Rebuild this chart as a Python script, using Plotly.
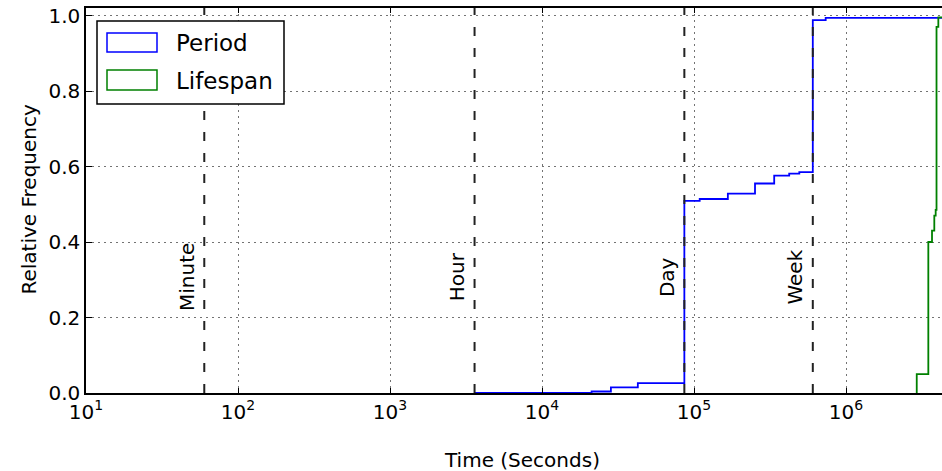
import numpy as np
import plotly.graph_objects as go

# Cumulative distributions (time in seconds, relative frequency)
period_t = [3600, 21200, 28400, 42700, 86400, 109000, 167000, 252000,
            337000, 423000, 493000, 604800, 735000, 4.6e6]
period_f = [0.0, 0.004, 0.015, 0.026, 0.509, 0.514, 0.528, 0.555,
            0.576, 0.581, 0.585, 0.988, 0.994, 0.995]

lifespan_t = [2.92e6, 2.92e6, 3.48e6, 3.68e6, 3.81e6, 3.89e6, 3.94e6, 4.05e6, 4.6e6]
lifespan_f = [0.0, 0.05, 0.40, 0.43, 0.47, 0.485, 0.97, 0.995, 0.995]

# Reference durations
marker_names = ["Minute", "Hour", "Day", "Week"]
marker_secs = [60, 3600, 86400, 604800]

x_tick_exp = [1, 2, 3, 4, 5, 6]
y_ticks = [0.0, 0.2, 0.4, 0.6, 0.8, 1.0]

FONT = "DejaVu Sans"
W, H = 942, 471
ML, MR, MT, MB = 86, 0, 8, 78
PW, PH = W - ML - MR, H - MT - MB

def px_x(p):
    return (p - ML) / PW

def px_y(p):
    return (H - MB - p) / PH

fig = go.Figure()

fig.add_trace(go.Scatter(x=period_t, y=period_f, mode="lines", line_shape="hv",
                         line=dict(color="#0000ff", width=1.8), showlegend=False))
fig.add_trace(go.Scatter(x=lifespan_t, y=lifespan_f, mode="lines", line_shape="hv",
                         line=dict(color="#008000", width=1.8), showlegend=False))

for name, s in zip(marker_names, marker_secs):
    fig.add_trace(go.Scatter(x=[s, s], y=[0, 1.02], mode="lines",
                             line=dict(color="#222222", width=2, dash="9px,12px"),
                             showlegend=False, hoverinfo="skip"))
    fig.add_annotation(x=np.log10(s), y=0.308, xref="x", yref="y", text=name,
                       textangle=-90, showarrow=False, xanchor="center", yanchor="middle",
                       xshift=-18, font=dict(family=FONT, size=20, color="black"))

# Legend box with patch handles
fig.add_shape(type="rect", xref="paper", yref="paper",
              x0=px_x(97), x1=px_x(284), y0=px_y(104), y1=px_y(21),
              line=dict(color="black", width=1.5), fillcolor="white", layer="above")
for (y0, y1, col, label, yc) in [(52, 33, "#0000ff", "Period", 43),
                                 (90, 70, "#008000", "Lifespan", 81)]:
    fig.add_shape(type="rect", xref="paper", yref="paper",
                  x0=px_x(107), x1=px_x(157), y0=px_y(y0), y1=px_y(y1),
                  line=dict(color=col, width=1.5), fillcolor="white", layer="above")
    fig.add_annotation(x=px_x(174), y=px_y(yc), xref="paper", yref="paper", text=label,
                       showarrow=False, xanchor="left", yanchor="middle",
                       font=dict(family=FONT, size=23, color="black"))

# Axis titles
fig.add_annotation(x=(522 - ML) / PW, y=px_y(460), xref="paper", yref="paper",
                   text="Time (Seconds)", showarrow=False, xanchor="center", yanchor="middle",
                   font=dict(family=FONT, size=20, color="black"))
fig.add_annotation(x=(28.5 - ML) / PW, y=px_y(200), xref="paper", yref="paper",
                   text="Relative Frequency", textangle=-90, showarrow=False,
                   xanchor="center", yanchor="middle",
                   font=dict(family=FONT, size=20, color="black"))

grid = dict(showgrid=True, gridcolor="rgba(0,0,0,0.55)", gridwidth=1, griddash="2px,4px")

fig.update_xaxes(type="log", range=[1, 1 + PW / 152.0],
                 tickvals=[10 ** e for e in x_tick_exp],
                 ticktext=[f"10<sup>{e}</sup>" for e in x_tick_exp],
                 ticks="inside", ticklen=5, tickwidth=1, tickcolor="black",
                 showline=True, linecolor="black", linewidth=1.5, mirror="ticks",
                 zeroline=False, tickfont=dict(family=FONT, size=20, color="black"),
                 **grid)
fig.update_yaxes(range=[0, 1.02], tickvals=y_ticks, tickformat=".1f",
                 ticks="inside", ticklen=6, tickwidth=1, tickcolor="black",
                 showline=True, linecolor="black", linewidth=1.5, mirror=False,
                 zeroline=False, tickfont=dict(family=FONT, size=20, color="black"),
                 **grid)

fig.update_layout(width=W, height=H, margin=dict(l=ML, r=MR, t=MT, b=MB),
                  paper_bgcolor="white", plot_bgcolor="white", showlegend=False,
                  font=dict(family=FONT, color="black"))

fig.write_html("out.html")
